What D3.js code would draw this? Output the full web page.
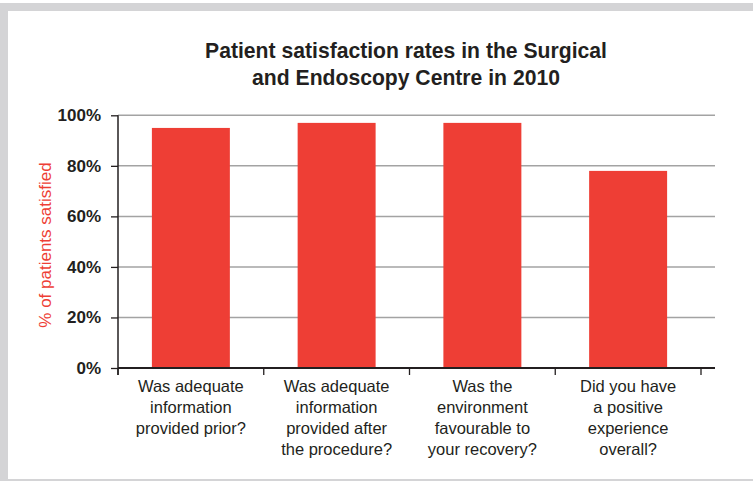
<!DOCTYPE html>
<html>
<head>
<meta charset="utf-8">
<script src="https://cdn.jsdelivr.net/npm/d3@7"></script>
<style>
  body { margin: 0; background: #fff; }
  svg text { font-family: "Liberation Sans", Arial, sans-serif; }
</style>
</head>
<body>
<svg width="753" height="481"></svg>
<script>
const categories = ["q1", "q2", "q3", "q4"];
const labels = [
    ["Was adequate", "information", "provided prior?"],
    ["Was adequate", "information", "provided after", "the procedure?"],
    ["Was the", "environment", "favourable to", "your recovery?"],
    ["Did you have", "a positive", "experience", "overall?"]
];
const values = [95, 97, 97, 78];
const yTicks = [0, 20, 40, 60, 80, 100];
const titleLines = ["Patient satisfaction rates in the Surgical", "and Endoscopy Centre in 2010"];
const yTitle = "% of patients satisfied";

const svg = d3.select("svg");
const barColor = "#ee3e35";
const ink = "#231f20";

// frame
svg.append("rect").attr("x", 0).attr("y", 3).attr("width", 753).attr("height", 8).attr("fill", "#d4d4d6");
svg.append("rect").attr("x", 0).attr("y", 3).attr("width", 8).attr("height", 478).attr("fill", "#d4d4d6");
svg.append("rect").attr("x", 0).attr("y", 479).attr("width", 753).attr("height", 2).attr("fill", "#d4d4d6");

const left = 118, right = 701, gridRight = 715;
const x = d3.scaleBand().domain(categories).range([left, right]).paddingInner(0.465).paddingOuter(0.2325);
const y = d3.scaleLinear().domain([0, 100]).range([368, 115.3]);

// title (slightly condensed)
svg.append("g").selectAll("text")
    .data(titleLines)
    .enter().append("text")
    .attr("transform", (d, i) => `translate(406,${58 + i * 27}) scale(0.94,1)`)
    .attr("text-anchor", "middle")
    .attr("font-size", 22.5)
    .attr("font-weight", "bold")
    .attr("fill", ink)
    .text(d => d);

// gridlines
svg.append("g").selectAll("line")
    .data(yTicks.filter(d => d > 0))
    .enter().append("line")
    .attr("x1", left).attr("x2", gridRight)
    .attr("y1", d => y(d)).attr("y2", d => y(d))
    .attr("stroke", "#a3a3a3").attr("stroke-width", 1.5);

// bars
svg.append("g").selectAll("rect")
    .data(values)
    .enter().append("rect")
    .attr("x", (d, i) => x(categories[i]))
    .attr("y", d => y(d))
    .attr("width", x.bandwidth())
    .attr("height", d => y(0) - y(d))
    .attr("fill", barColor);

// y axis
const yAxis = svg.append("g").attr("transform", `translate(${left},0)`)
    .call(d3.axisLeft(y).tickValues(yTicks).tickSize(7).tickFormat(d => d + "%"));
yAxis.select(".domain").remove();
yAxis.selectAll(".tick line").attr("stroke", ink).attr("stroke-width", 1.3);
yAxis.selectAll(".tick text")
    .attr("x", -17)
    .attr("font-family", "'Liberation Sans', Arial, sans-serif")
    .attr("font-size", 17).attr("font-weight", "bold").attr("fill", ink);
svg.append("line")
    .attr("x1", left).attr("x2", left).attr("y1", y(100)).attr("y2", y(0) + 7)
    .attr("stroke", ink).attr("stroke-width", 1.5);

// baseline and category ticks
svg.append("line")
    .attr("x1", left).attr("x2", gridRight).attr("y1", y(0)).attr("y2", y(0))
    .attr("stroke", ink).attr("stroke-width", 2);
const edges = categories.map(c => x(c) - (x.step() - x.bandwidth()) / 2).concat([right]);
svg.append("g").selectAll("line")
    .data(edges)
    .enter().append("line")
    .attr("x1", d => d).attr("x2", d => d)
    .attr("y1", y(0)).attr("y2", y(0) + 7)
    .attr("stroke", ink).attr("stroke-width", 1.3);

// category labels
const lab = svg.append("g").selectAll("text")
    .data(labels)
    .enter().append("text")
    .attr("text-anchor", "middle")
    .attr("font-size", 16.5)
    .attr("fill", ink);
lab.each(function(lines, i) {
    d3.select(this).selectAll("tspan")
        .data(lines)
        .enter().append("tspan")
        .attr("x", x(categories[i]) + x.bandwidth() / 2)
        .attr("y", (d, j) => 392 + j * 21)
        .text(d => d);
});

// y title
svg.append("text")
    .attr("transform", `translate(51,245) rotate(-90)`)
    .attr("text-anchor", "middle")
    .attr("font-size", 17)
    .attr("fill", barColor)
    .text(yTitle);
</script>
</body>
</html>
